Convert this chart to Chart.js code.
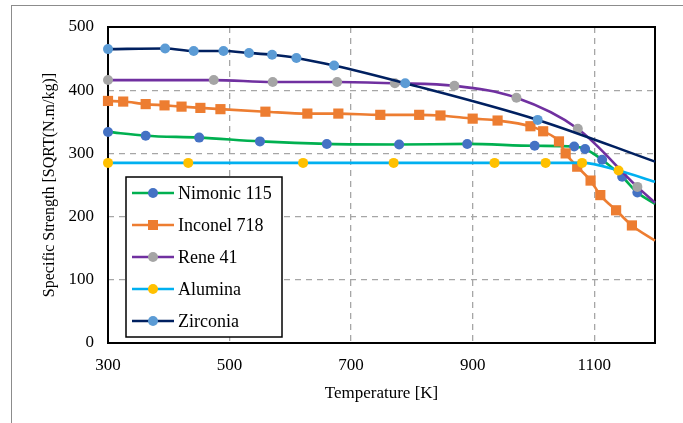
<!DOCTYPE html>
<html>
<head>
<meta charset="utf-8">
<script src="https://cdn.jsdelivr.net/npm/chart.js@4.4.1/dist/chart.umd.min.js"></script>
<style>
  html, body { margin: 0; padding: 0; background: #fff; }
  #wrap { position: relative; width: 683px; height: 423px; overflow: hidden; }
  #frame { position: absolute; left: 11px; top: 5px; right: -2px; bottom: -2px; border-left: 1.5px solid #8c8c8c; border-top: 1.5px solid #8c8c8c; }
  canvas { position: absolute; left: 0; top: 0; }
</style>
</head>
<body>
<div id="wrap">
  <div id="frame"></div>
  <canvas id="chart" width="683" height="423"></canvas>
</div>
<script>
// Valores
const xTicks = [300, 500, 700, 900, 1100];
const seriesNames = ['Nimonic 115', 'Inconel 718', 'Rene 41', 'Alumina', 'Zirconia'];

const nimonicT = [300, 362, 450, 550, 660, 779, 891, 1002, 1067, 1085, 1113, 1146, 1171, 1200];
const nimonicS = [334, 328, 325, 319, 315, 314, 315, 312, 311, 307, 290, 263, 238, 220];

const inconelT = [300, 325, 362, 393, 421, 452, 485, 559, 628, 679, 748, 812, 847, 900, 941, 995, 1016, 1042, 1053, 1072, 1094, 1110, 1136, 1162, 1200];
const inconelS = [383, 382, 378, 376, 374, 372, 370, 366, 363, 363, 361, 361, 360, 355, 352, 343, 335, 319, 300, 279, 257, 234, 210, 186, 162];

const reneT = [300, 474, 571, 677, 772, 870, 972, 1073, 1171, 1200];
const reneS = [416, 416, 413, 413, 411, 407, 388, 339, 247, 222];

const aluminaT = [300, 432, 621, 770, 936, 1020, 1080, 1140, 1200];
const aluminaS = [285, 285, 285, 285, 285, 285, 285, 273, 255];

const zirconiaT = [300, 394, 441, 490, 532, 570, 610, 672, 789, 1007, 1200];
const zirconiaS = [465, 466, 462, 462, 459, 456, 451, 439, 411, 353, 287];

// Colores: línea y marcador de cada serie
const lineColors = ['#00B050', '#ED7D31', '#7030A0', '#00B0F0', '#002060'];
const markerColors = ['#4472C4', '#ED7D31', '#A5A5A5', '#FFC000', '#5B9BD5'];
const markerStyles = ['circle', 'rect', 'circle', 'circle', 'circle'];

const toPoints = (xs, ys) => xs.map((x, i) => ({ x: x, y: ys[i] }));
const allT = [nimonicT, inconelT, reneT, aluminaT, zirconiaT];
const allS = [nimonicS, inconelS, reneS, aluminaS, zirconiaS];

const datasets = seriesNames.map((name, i) => {
    const last = allT[i].length - 1;
    const r = markerStyles[i] === 'rect' ? 7.2 : 5;
    return {
        label: name,
        data: toPoints(allT[i], allS[i]),
        showLine: true,
        borderColor: lineColors[i],
        borderWidth: 2.6,
        cubicInterpolationMode: 'monotone',
        pointStyle: markerStyles[i],
        pointRadius: allT[i].map((_, j) => j === last ? 0 : r),
        pointBackgroundColor: markerColors[i],
        pointBorderColor: markerColors[i],
        pointBorderWidth: 0,
        clip: false,
        order: seriesNames.length - i
    };
});

const serif = '"Liberation Serif", "Times New Roman", serif';

// Marco negro del área del gráfico
const frameBox = {
    id: 'frameBox',
    beforeDatasetsDraw(chart) {
        const { ctx, chartArea: a } = chart;
        ctx.save();
        ctx.strokeStyle = '#000';
        ctx.lineWidth = 2;
        ctx.strokeRect(a.left, a.top, a.right - a.left, a.bottom - a.top);
        ctx.restore();
    }
};

// Leyenda dibujada dentro del área
const boxLegend = {
    id: 'boxLegend',
    afterDatasetsDraw(chart) {
        const { ctx, chartArea: a } = chart;
        const left = a.left + 18, top = a.top + 150, w = 156, h = 160;
        ctx.save();
        ctx.fillStyle = '#fff';
        ctx.fillRect(left, top, w, h);
        ctx.strokeStyle = '#000';
        ctx.lineWidth = 1.5;
        ctx.strokeRect(left, top, w, h);
        ctx.font = '18px ' + serif;
        ctx.textBaseline = 'middle';
        seriesNames.forEach((name, i) => {
            const y = top + 16 + i * 32;
            ctx.strokeStyle = lineColors[i];
            ctx.lineWidth = 2.6;
            ctx.beginPath();
            ctx.moveTo(left + 6, y);
            ctx.lineTo(left + 48, y);
            ctx.stroke();
            ctx.fillStyle = markerColors[i];
            const cx = left + 27;
            if (markerStyles[i] === 'rect') {
                ctx.fillRect(cx - 5, y - 5, 10, 10);
            } else {
                ctx.beginPath();
                ctx.arc(cx, y, 5, 0, Math.PI * 2);
                ctx.fill();
            }
            ctx.fillStyle = '#000';
            ctx.fillText(name, left + 52, y + 1);
        });
        ctx.restore();
    }
};

new Chart(document.getElementById('chart').getContext('2d'), {
    type: 'scatter',
    data: { datasets: datasets },
    options: {
        responsive: false,
        animation: false,
        layout: { padding: { left: 40, right: 28, top: 27, bottom: 19 } },
        plugins: { legend: { display: false }, tooltip: { enabled: false } },
        scales: {
            x: {
                type: 'linear',
                min: 300,
                max: 1200,
                afterBuildTicks: scale => { scale.ticks = xTicks.map(v => ({ value: v })); },
                afterFit: scale => { scale.height = 423 - 343 - 19; },
                grid: { color: '#a6a6a6', lineWidth: 1.3, drawTicks: false },
                border: { display: false, dash: [6, 5] },
                ticks: { color: '#000', padding: 12, callback: v => String(v), font: { family: serif, size: 17 } },
                title: { display: true, text: 'Temperature [K]', color: '#000', padding: 0, font: { family: serif, size: 17 } }
            },
            y: {
                min: 0,
                max: 500,
                ticks: { stepSize: 100, color: '#000', padding: 14, callback: v => String(v), font: { family: serif, size: 17 } },
                afterFit: scale => { scale.width = 108 - 40; },
                grid: { color: '#a6a6a6', lineWidth: 1.3, drawTicks: false },
                border: { display: false, dash: [6, 5] },
                title: { display: true, text: 'Specific Strength [SQRT(N.m/kg)]', color: '#000', padding: 0, font: { family: serif, size: 16 } }
            }
        }
    },
    plugins: [frameBox, boxLegend]
});
</script>
</body>
</html>
